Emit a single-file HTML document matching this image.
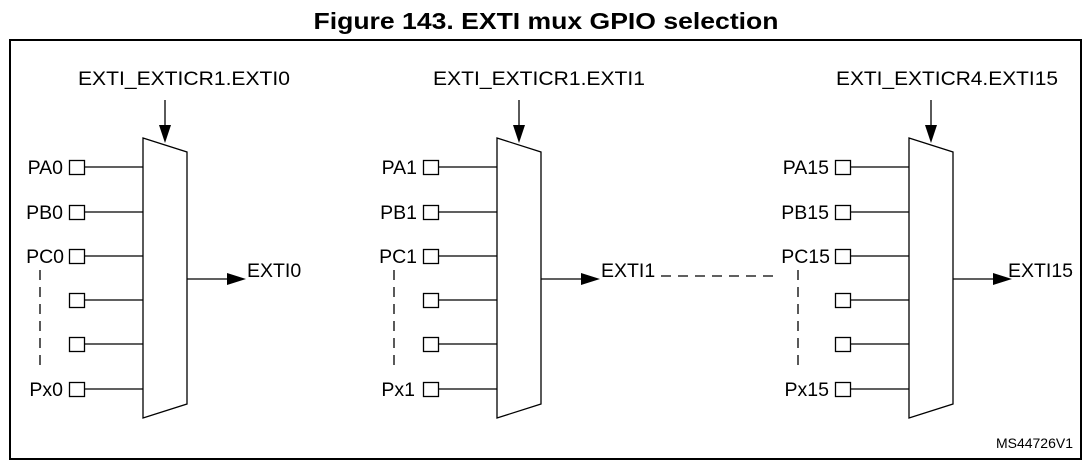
<!DOCTYPE html>
<html><head><style>html,body{margin:0;padding:0;background:#fff}svg{display:block}</style></head><body>
<svg width="1091" height="465" viewBox="0 0 1091 465" xmlns="http://www.w3.org/2000/svg" font-family="Liberation Sans, Arial, sans-serif">
<defs>
<marker id="a" markerWidth="20" markerHeight="14" refX="19" refY="6.5" orient="auto" markerUnits="userSpaceOnUse" viewBox="0 0 20 14"><path d="M0,0 L19,6.5 L0,13 z" fill="#000"/></marker>
<marker id="d" markerWidth="14" markerHeight="20" refX="6" refY="18" orient="0" markerUnits="userSpaceOnUse" viewBox="0 0 14 20"><path d="M0,0 L12,0 L6,18 z" fill="#000"/></marker>
<g id="mux">
  <path d="M143,138 L187,152 L187,404 L143,418 Z" fill="#fff" stroke="#000" stroke-width="1.3"/>
  <g stroke="#000" stroke-width="1.3" fill="#fff">
    <line x1="84" y1="167" x2="143" y2="167"/><rect x="69.5" y="160.5" width="15" height="14"/>
    <line x1="84" y1="212" x2="143" y2="212"/><rect x="69.5" y="205.5" width="15" height="14"/>
    <line x1="84" y1="256" x2="143" y2="256"/><rect x="69.5" y="249.5" width="15" height="14"/>
    <line x1="84" y1="300" x2="143" y2="300"/><rect x="69.5" y="293.5" width="15" height="14"/>
    <line x1="84" y1="344" x2="143" y2="344"/><rect x="69.5" y="337.5" width="15" height="14"/>
    <line x1="84" y1="389" x2="143" y2="389"/><rect x="69.5" y="382.5" width="15" height="14"/>
  </g>
  <line x1="165" y1="100" x2="165" y2="125" stroke="#000" stroke-width="1.3"/>
  <path d="M159,125 L171,125 L165,143 z" fill="#000"/>
  <line x1="187" y1="279" x2="230" y2="279" stroke="#000" stroke-width="1.3"/>
  <path d="M227,273 L246,279 L227,285 z" fill="#000"/>
</g>
</defs>
<text x="546" y="29" font-size="23" font-weight="bold" text-anchor="middle" textLength="465" lengthAdjust="spacingAndGlyphs">Figure 143. EXTI mux GPIO selection</text>
<rect x="10" y="40" width="1071" height="419" fill="none" stroke="#000" stroke-width="2"/>
<use href="#mux"/>
<use href="#mux" transform="translate(354,0)"/>
<use href="#mux" transform="translate(766,0)"/>
<g font-size="19.5" fill="#000">
<text x="78" y="85" textLength="212" lengthAdjust="spacingAndGlyphs">EXTI_EXTICR1.EXTI0</text>
<text x="433" y="85" textLength="212" lengthAdjust="spacingAndGlyphs">EXTI_EXTICR1.EXTI1</text>
<text x="836" y="85" textLength="222" lengthAdjust="spacingAndGlyphs">EXTI_EXTICR4.EXTI15</text>
<g text-anchor="end">
<text x="63" y="174">PA0</text><text x="63" y="219">PB0</text><text x="64" y="263">PC0</text><text x="63" y="396">Px0</text>
<text x="417" y="174">PA1</text><text x="417" y="219">PB1</text><text x="417" y="263">PC1</text><text x="415" y="396">Px1</text>
<text x="829" y="174">PA15</text><text x="829" y="219">PB15</text><text x="830" y="263">PC15</text><text x="829" y="396">Px15</text>
</g>
<text x="247" y="277">EXTI0</text>
<text x="601" y="277">EXTI1</text>
<text x="1008" y="277">EXTI15</text>
</g>
<g stroke="#000" stroke-width="1.3" stroke-dasharray="10,7" fill="none">
<line x1="40" y1="270" x2="40" y2="372"/>
<line x1="394" y1="270" x2="394" y2="372"/>
<line x1="798" y1="270" x2="798" y2="372"/>
<line x1="661" y1="276" x2="778" y2="276"/>
</g>
<text x="1073" y="448" font-size="14" text-anchor="end">MS44726V1</text>
</svg>
</body></html>
